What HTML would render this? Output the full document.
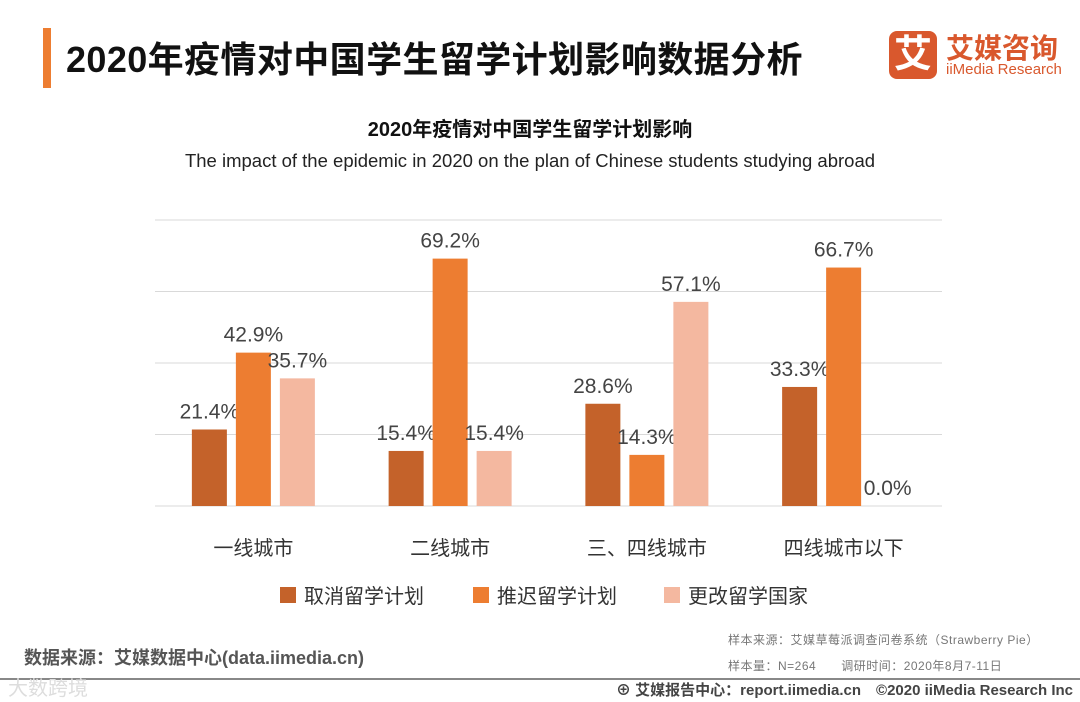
<!DOCTYPE html>
<html><head><meta charset="utf-8"><style>
body{margin:0;width:1080px;height:702px;background:#fff;font-family:"Liberation Sans","Noto Sans CJK SC",sans-serif;overflow:hidden;position:relative}
.a{position:absolute;white-space:nowrap}
</style></head><body>
<div class="a" style="left:43px;top:28px;width:8px;height:60px;background:#ed7d31"></div>
<div class="a" style="left:66px;top:31px;font-size:36px;letter-spacing:0.4px;font-weight:bold;color:#111">2020年疫情对中国学生留学计划影响数据分析</div>
<div class="a" style="left:889px;top:31px;width:48px;height:48px;background:#d9582d;border-radius:8px;color:#fff;font-size:38px;font-weight:bold;text-align:center;line-height:48px">艾</div>
<div class="a" style="left:946px;top:27px;font-size:28px;font-weight:bold;color:#d9582d">艾媒咨询</div>
<div class="a" style="left:946px;top:61px;font-size:15px;color:#d9582d">iiMedia Research</div>
<div class="a" style="left:0;width:1060px;text-align:center;top:113px;font-size:20px;font-weight:bold;color:#111">2020年疫情对中国学生留学计划影响</div>
<div class="a" style="left:0;width:1060px;text-align:center;top:150px;font-size:18.5px;color:#222">The impact of the epidemic in 2020 on the plan of Chinese students studying abroad</div>
<svg class="a" style="left:0;top:0" width="1080" height="702" id="chart"></svg>
<div class="a" style="left:24px;top:644px;font-size:18px;font-weight:bold;color:#555">数据来源：艾媒数据中心(data.iimedia.cn)</div>
<div class="a" style="left:728px;top:631px;font-size:12px;color:#777;letter-spacing:0.5px">样本来源：艾媒草莓派调查问卷系统（Strawberry Pie）</div>
<div class="a" style="left:728px;top:657px;font-size:12px;color:#777;letter-spacing:0.5px">样本量：N=264　　调研时间：2020年8月7-11日</div>
<div class="a" style="left:0;top:678px;width:1080px;height:2px;background:#888"></div>
<div class="a" style="left:8px;top:672px;font-size:20px;color:#ddd">大数跨境</div>
<div class="a" style="left:616px;top:679px;font-size:15px;font-weight:bold;color:#444">⊕ 艾媒报告中心：report.iimedia.cn　©2020  iiMedia Research  Inc</div>
<script>
const categories=["一线城市","二线城市","三、四线城市","四线城市以下"];
const seriesNames=["取消留学计划","推迟留学计划","更改留学国家"];
const cancelVals=[21.4,15.4,28.6,33.3];
const delayVals=[42.9,69.2,14.3,66.7];
const changeVals=[35.7,15.4,57.1,0.0];
const ticks=[0,20,40,60,80];
const colors=["#c4622a","#ed7d31","#f4b8a0"];
const svg=document.getElementById('chart');const NS="http://www.w3.org/2000/svg";
const x0=155,x1=942,yb=506,pxPer=71.5/20;
const y=v=>yb-v*pxPer;
const gw=(x1-x0)/categories.length;
const cx=i=>x0+gw*(i+0.5);
function mk(t,a){const e=document.createElementNS(NS,t);for(const k in a)e.setAttribute(k,a[k]);svg.appendChild(e);return e;}
ticks.forEach(t=>{const l=mk('line',{x1:x0,x2:x1,y1:y(t),y2:y(t),stroke:'#d9d9d9','stroke-width':1});

});
const series=[cancelVals,delayVals,changeVals];
series.forEach((vals,s)=>vals.forEach((v,i)=>{
const bx=cx(i)+(s-1)*44-17.5;
const r=mk('rect',{x:bx,y:y(v),width:35,height:v*pxPer,fill:colors[s]});


const t=mk('text',{x:bx+17.5,y:y(v)-11,'text-anchor':'middle','font-size':21,fill:'#444'});
t.textContent=v.toFixed(1)+'%';


}));
categories.forEach((c,i)=>{const t=mk('text',{x:cx(i),y:555,'text-anchor':'middle','font-size':20,fill:'#333'});t.textContent=c;

});
const lx=[280,473,664];
seriesNames.forEach((n,s)=>{const r=mk('rect',{x:lx[s],y:587,width:16,height:16,fill:colors[s]});


const t=mk('text',{x:lx[s]+24,y:603,'font-size':20,fill:'#333'});t.textContent=n;

});
</script>
</body></html>
